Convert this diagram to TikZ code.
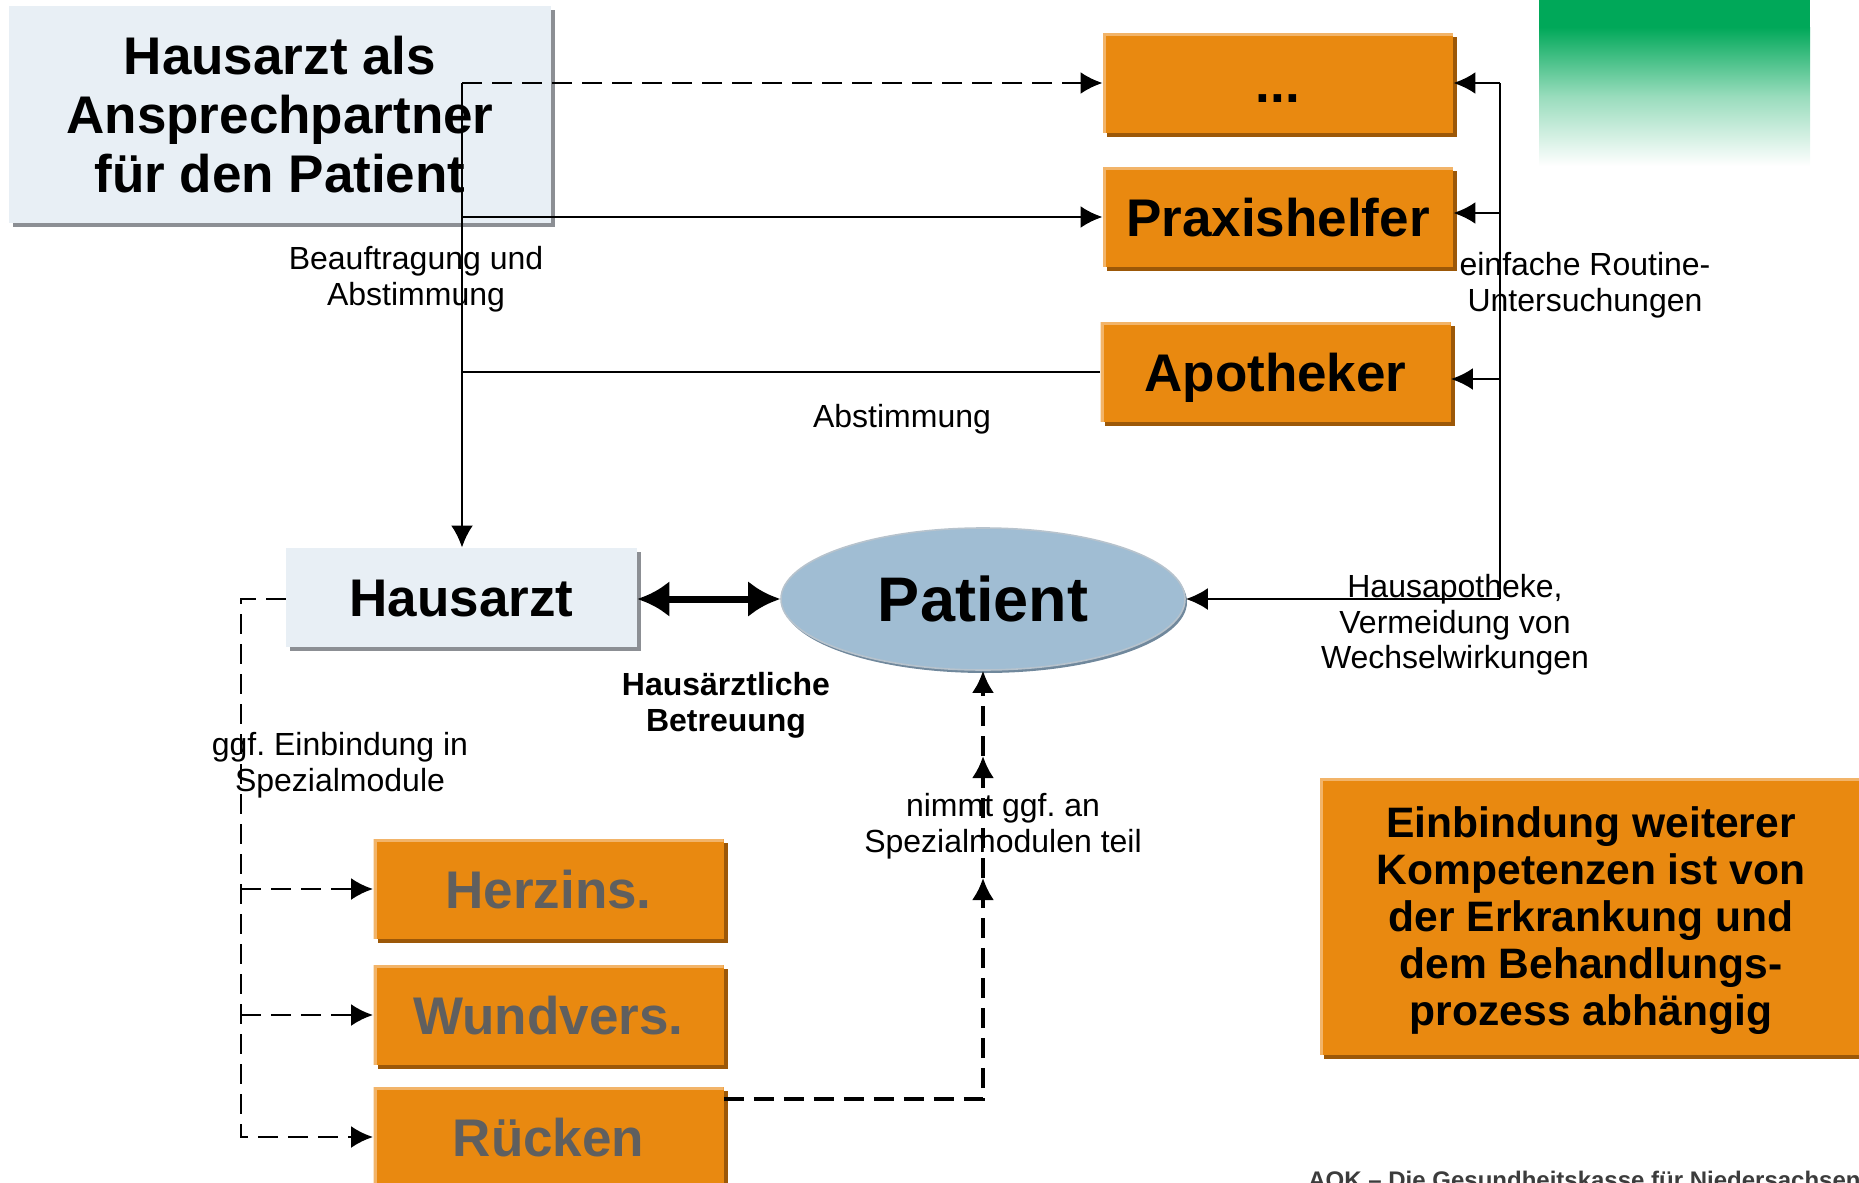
\documentclass[tikz,border=0pt]{standalone}
\usepackage{fontspec}
\setmainfont{Liberation Sans}
\usetikzlibrary{arrows.meta,shapes.geometric}

\definecolor{boxorange}{RGB}{233,137,16}
\definecolor{orangedark}{RGB}{156,88,8}
\definecolor{orangelight}{RGB}{242,180,105}
\definecolor{paleblue}{RGB}{232,239,245}
\definecolor{boxgray}{RGB}{140,143,148}
\definecolor{patblue}{RGB}{160,189,211}
\definecolor{patedge}{RGB}{112,136,156}
\definecolor{aokgreen}{RGB}{0,168,89}
\definecolor{modgray}{RGB}{95,95,95}
\definecolor{aoktext}{RGB}{60,60,60}

\tikzset{
  obox/.style={rectangle, fill=boxorange, inner sep=0pt,
    minimum width=175pt, minimum height=50pt,
    preaction={fill=orangedark, transform canvas={xshift=2pt,yshift=-2pt}},
    path picture={\draw[orangelight, line width=3pt]
      (path picture bounding box.south west) -- (path picture bounding box.north west)
      -- (path picture bounding box.north east);},
    font=\fontsize{26.5pt}{29.5pt}\selectfont\bfseries},
  bbox/.style={rectangle, fill=paleblue, inner sep=0pt,
    preaction={fill=boxgray, transform canvas={xshift=2pt,yshift=-2pt}},
    font=\fontsize{26.5pt}{29.5pt}\selectfont\bfseries},
  capc/.style={text height=19pt, text depth=0pt},
  patientnode/.style={ellipse, fill=patblue, draw=patedge!50, line width=0.8pt,
    minimum width=202pt, minimum height=71pt, inner sep=0pt,
    preaction={fill=patedge, transform canvas={xshift=1pt,yshift=-1.5pt}},
    font=\fontsize{31.5pt}{35pt}\selectfont\bfseries,
    text height=22.5pt, text depth=0pt},
  lbl/.style={font=\fontsize{16pt}{17.8pt}\selectfont, align=center, inner sep=0pt},
  conn/.style={draw=black, line width=1.4pt},
  arr/.style={conn, -{Latex[length=11pt,width=11pt]}},
  dsh/.style={dash pattern=on 10pt off 5pt},
}

\begin{document}
\begin{tikzpicture}[x=0.5pt,y=-0.5pt]
\useasboundingbox (0,0) rectangle (1859,1183);

% green gradient logo area
\fill[aokgreen] (1539,0) rectangle (1810,27);
\shade[top color=aokgreen, bottom color=white, middle color=aokgreen!40] (1539,27) rectangle (1810,166);

% nodes
\node[bbox, minimum width=271pt, minimum height=108.5pt, align=center] (title) at (280,114.5)
  {Hausarzt als\\Ansprechpartner\\für den Patient};
\node[obox, capc] (dots) at (1278,83) {...};
\node[obox, capc] (praxis) at (1278,217) {Praxishelfer};
\node[obox, capc] (apo) at (1275.5,372) {Apotheker};
\node[bbox, capc, minimum width=175.5pt, minimum height=49.5pt] (hausarzt) at (461.5,597.5) {Hausarzt};
\node[patientnode] (patient) at (983,599) {Patient};
\node[obox, capc, text=modgray] (herz) at (548.5,889) {Herzins.};
\node[obox, capc, text=modgray] (wund) at (548.5,1015) {Wundvers.};
\node[obox, capc, text=modgray] (ruecken) at (548.5,1137) {Rücken};
\node[obox, minimum width=271pt, minimum height=138.5pt, align=center, text depth=0pt,
  font=\fontsize{21.3pt}{23.5pt}\selectfont\bfseries] (note) at (1591,916.5)
  {Einbindung weiterer\\Kompetenzen ist von\\der Erkrankung und\\dem Behandlungs-\\prozess abhängig};

% left upper connectors
\coordinate (lt) at (462,83);
\coordinate (lp) at (462,217);
\coordinate (la) at (462,372);
\draw[arr, dsh] (lt) -- (dots.west);
\draw[arr] (lp) -- (praxis.west);
\draw[conn] (la) -- (apo.west);
\draw[arr] (lt) -- (lt |- hausarzt.north);

% right connectors
\coordinate (rt) at (1500,83);
\coordinate (rp) at (1500,213);
\coordinate (ra) at (1500,379);
\coordinate (rb) at (1500,599);
\draw[conn] (rt) -- (rb);
\draw[arr] (rt) -- (dots.east);
\draw[arr] (rp) -- (rp -| praxis.east);
\draw[arr] (ra) -- (ra -| apo.east);
\draw[arr] (rb) -- (patient.east);

% Hausarzt <-> Patient
\draw[line width=3.5pt, {Latex[length=16pt,width=18pt]}-{Latex[length=16pt,width=18pt]}]
  (hausarzt.east |- patient.west) -- (patient.west);

% left dashed tree to modules
\coordinate (lh) at (241,599);
\coordinate (l1) at (241,889);
\coordinate (l2) at (241,1015);
\coordinate (l3) at (241,1137);
\draw[arr, dsh] (lh -| hausarzt.west) -- (lh) -- (l3) -- (ruecken.west);
\draw[arr, dsh] (l1) -- (herz.west);
\draw[arr, dsh] (l2) -- (wund.west);

% Ruecken -> Patient
\coordinate (rc) at (983,1099);
\coordinate (m1) at (983,878);
\coordinate (m2) at (983,756);
\draw[arr, dsh, line width=1.6pt] (rc -| ruecken.east) -- (rc) -- (m1);
\draw[arr, dsh, line width=1.6pt] (m1) -- (m2);
\draw[arr, dsh, line width=1.6pt] (m2) -- (patient.south);

% labels
\node[lbl] (lbeauf) at (416,279) {Beauftragung und\\Abstimmung};
\node[lbl] (labst) at (902,419) {Abstimmung};
\node[lbl] (lrout) at (1585,285) {einfache Routine-\\Untersuchungen};
\node[lbl] (lhausapo) at (1455,625) {Hausapotheke,\\Vermeidung von\\Wechselwirkungen};
\node[lbl] (lggf) at (340,765) {ggf.\ Einbindung in\\Spezialmodule};
\node[lbl, font=\fontsize{16pt}{17.8pt}\selectfont\bfseries] (lbetr) at (726,705) {Hausärztliche\\Betreuung};
\node[lbl] (lnimmt) at (1003,826) {nimmt ggf.\ an\\Spezialmodulen teil};
\node[anchor=base west, inner sep=0pt, font=\fontsize{12pt}{14pt}\selectfont\bfseries, text=aoktext]
  (aok) at (1308,1188) {AOK – Die Gesundheitskasse für Niedersachsen};
\end{tikzpicture}
\end{document}
